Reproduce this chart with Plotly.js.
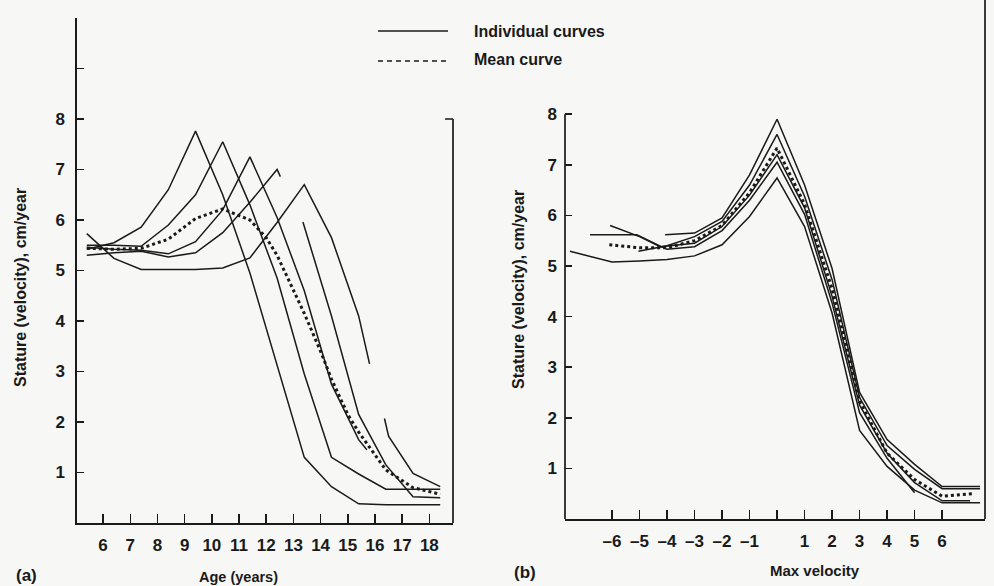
<!DOCTYPE html>
<html>
<head>
<meta charset="utf-8">
<script src="https://cdn.plot.ly/plotly-3.0.1.min.js"></script>
<style>
  html, body { margin: 0; padding: 0; background: #f7f7f5; }
  #chart { width: 994px; height: 586px; }
</style>
</head>
<body>
<div id="chart"></div>
<script>
// ---------- Panel (a): velocity by age ----------
const ageA = [5.4, 6.4, 7.4, 8.4, 9.4, 10.4, 11.4, 12.4, 13.4, 14.4, 15.4, 16.4, 17.4, 18.4];
const velA = [5.42, 5.55, 5.86, 6.6, 7.76, 6.5, 4.95, 3.1, 1.3, 0.72, 0.38, 0.36, 0.36, 0.36];

const ageB = [5.4, 6.4, 7.4, 8.4, 9.4, 10.4, 11.4, 12.4, 13.4, 14.4, 15.4, 16.4, 17.4, 18.4];
const velB = [5.5, 5.5, 5.48, 5.9, 6.5, 7.55, 6.3, 4.85, 2.95, 1.3, 0.97, 0.67, 0.67, 0.67];

const ageC = [5.4, 6.4, 7.4, 8.4, 9.4, 10.4, 11.4, 12.4, 13.4, 14.4, 15.4, 15.7];
const velC = [5.46, 5.42, 5.4, 5.33, 5.57, 6.2, 7.25, 6.05, 4.6, 2.75, 1.65, 1.45];

const ageD = [5.4, 6.4, 7.4, 8.4, 9.4, 10.4, 11.4, 12.4, 12.52, null, 13.35, 14.4, 15.4, 16.4, 17.4, 18.4];
const velD = [5.3, 5.35, 5.38, 5.27, 5.35, 5.75, 6.35, 7.0, 6.86, null, 5.96, 4.1, 2.15, 1.15, 0.52, 0.5];

const ageE = [5.4, 6.4, 7.4, 8.4, 9.4, 10.4, 11.4, 12.4, 13.4, 14.4, 15.4, 15.8, null, 16.35, 16.5, 17.4, 18.4];
const velE = [5.73, 5.24, 5.02, 5.02, 5.02, 5.05, 5.25, 5.95, 6.7, 5.65, 4.1, 3.15, null, 2.07, 1.72, 0.98, 0.72];

const ageMean = [5.4, 6.4, 7.4, 8.4, 9.4, 10.4, 11.4, 12.0, 12.4, 13.0, 13.4, 14.0, 14.4, 15.0, 15.4, 16.4, 17.4, 18.4];
const velMean = [5.44, 5.42, 5.44, 5.62, 6.03, 6.22, 6.0, 5.65, 5.3, 4.6, 4.15, 3.4, 2.85, 2.15, 1.8, 1.05, 0.7, 0.57];

const ageTicks = [6, 7, 8, 9, 10, 11, 12, 13, 14, 15, 16, 17, 18];
const velTicksA = [1, 2, 3, 4, 5, 6, 7, 8, 9, 10];
const velTickTextA = ['1', '2', '3', '4', '5', '6', '7', '8', '', ''];

// ---------- Panel (b): velocity by years from max velocity ----------
const rel1 = [-7.53, -6, -5, -4, -3, -2, -1, 0, 1, 2, 3, 4, 5, 6, 7.38];
const vel1 = [5.29, 5.08, 5.1, 5.13, 5.2, 5.42, 5.98, 6.74, 5.78, 4.07, 1.75, 1.04, 0.57, 0.32, 0.32];

const rel2 = [-6.8, -5.1, -4, -3, -2, -1, 0, 1, 2, 3, 4, 5];
const vel2 = [5.62, 5.62, 5.33, 5.38, 5.7, 6.3, 7.05, 6.02, 4.27, 2.1, 1.2, 0.52];

const rel3 = [-6.07, -5, -4.25, -3, -2, -1, 0, 1, 2, 3, 4, 5, 6, 7.02];
const vel3 = [5.8, 5.58, 5.38, 5.45, 5.78, 6.4, 7.2, 6.15, 4.4, 2.25, 1.3, 0.72, 0.36, 0.36];

const rel4 = [-5.04, -4, -3, -2, -1, 0, 1, 2, 3, 4, 5, 6, 7.38];
const vel4 = [5.29, 5.4, 5.58, 5.88, 6.6, 7.6, 6.38, 4.73, 2.4, 1.45, 0.98, 0.6, 0.6];

const rel5 = [-4.07, -3, -2, -1, 0, 1, 2, 3, 4, 5, 6, 7.38];
const vel5 = [5.62, 5.65, 5.95, 6.8, 7.9, 6.6, 4.95, 2.5, 1.57, 1.08, 0.64, 0.64];

const relMean = [-6.1, -5, -4, -3, -2, -1, 0, 1, 2, 3, 4, 5, 6, 7.1];
const velMeanB = [5.42, 5.36, 5.36, 5.5, 5.8, 6.45, 7.33, 6.22, 4.55, 2.33, 1.3, 0.78, 0.45, 0.5];

const relTicks = [-6, -5, -4, -3, -2, -1, 0, 1, 2, 3, 4, 5, 6];
const relTickText = ['\u20136', '\u20135', '\u20134', '\u20133', '\u20132', '\u20131', '', '1', '2', '3', '4', '5', '6'];
const velTicksB = [1, 2, 3, 4, 5, 6, 7, 8];

// ---------- Text ----------
const yTitle = 'Stature (velocity), cm/year';
const xTitleA = 'Age (years)';
const xTitleB = 'Max velocity';
const legendSolid = 'Individual curves';
const legendMean = 'Mean curve';

// ---------- Build ----------
const INK = '#1a1a1a';
const FONT = 'Liberation Sans, Arial, Helvetica, sans-serif';
const W = 994, H = 586;

function indiv(x, y, xa, ya) {
  return { x: x, y: y, xaxis: xa, yaxis: ya, mode: 'lines', type: 'scatter',
           line: { color: INK, width: 1.5 }, connectgaps: false, hoverinfo: 'skip', showlegend: false };
}
function mean(x, y, xa, ya) {
  return { x: x, y: y, xaxis: xa, yaxis: ya, mode: 'lines', type: 'scatter',
           line: { color: INK, width: 3, dash: 'dot' }, hoverinfo: 'skip', showlegend: false };
}

const data = [
  indiv(ageA, velA, 'x', 'y'),
  indiv(ageB, velB, 'x', 'y'),
  indiv(ageC, velC, 'x', 'y'),
  indiv(ageD, velD, 'x', 'y'),
  indiv(ageE, velE, 'x', 'y'),
  mean(ageMean, velMean, 'x', 'y'),
  indiv(rel1, vel1, 'x2', 'y2'),
  indiv(rel2, vel2, 'x2', 'y2'),
  indiv(rel3, vel3, 'x2', 'y2'),
  indiv(rel4, vel4, 'x2', 'y2'),
  indiv(rel5, vel5, 'x2', 'y2'),
  mean(relMean, velMeanB, 'x2', 'y2')
];

const tickFont = { family: FONT, size: 17, color: INK, weight: 'bold' };
function txt(size) { return { family: FONT, size: size, color: INK, weight: 'bold' }; }

const layout = {
  width: W, height: H,
  margin: { l: 0, r: 0, t: 0, b: 0 },
  paper_bgcolor: '#f7f7f5',
  plot_bgcolor: 'rgba(0,0,0,0)',
  showlegend: false,
  font: { family: FONT, color: INK },
  xaxis: {
    domain: [77 / W, 453 / W], range: [5.04, 18.87], anchor: 'y',
    showline: true, linecolor: INK, linewidth: 1.7, mirror: false,
    ticks: 'inside', ticklen: 9, tickwidth: 1.5, tickcolor: INK,
    tickvals: ageTicks, tickfont: tickFont, ticklabelstandoff: 6,
    showgrid: false, zeroline: false
  },
  yaxis: {
    domain: [1 - 523 / H, 1 - 18 / H], range: [0, 10], anchor: 'x',
    showline: true, linecolor: INK, linewidth: 1.7,
    ticks: 'inside', ticklen: 7, tickwidth: 1.5, tickcolor: INK,
    tickvals: velTicksA, ticktext: velTickTextA, tickfont: tickFont, ticklabelstandoff: 7,
    showgrid: false, zeroline: false
  },
  xaxis2: {
    domain: [565 / W, 985 / W], range: [-7.71, 7.56], anchor: 'y2',
    showline: true, linecolor: INK, linewidth: 1.7,
    ticks: 'inside', ticklen: 9, tickwidth: 1.5, tickcolor: INK,
    tickvals: relTicks, ticktext: relTickText, tickfont: tickFont, ticklabelstandoff: 6,
    showgrid: false, zeroline: false
  },
  yaxis2: {
    domain: [1 - 519 / H, 1], range: [0, 519 / 50.6], anchor: 'x2',
    showline: false,
    ticks: 'inside', ticklen: 7, tickwidth: 1.5, tickcolor: INK,
    tickvals: velTicksB, tickfont: tickFont, ticklabelstandoff: 7,
    showgrid: false, zeroline: false
  },
  shapes: [
    { type: 'line', xref: 'x domain', yref: 'y', x0: 1, x1: 1, y0: 0, y1: 8, line: { color: INK, width: 1.7 } },
    { type: 'line', xref: 'x domain', yref: 'y', x0: 1 - 8 / 376, x1: 1, y0: 8, y1: 8, line: { color: INK, width: 1.5 } },
    { type: 'line', xref: 'x2 domain', yref: 'y2', x0: 0, x1: 0, y0: 0, y1: 8, line: { color: INK, width: 1.7 } },
    { type: 'line', xref: 'x2 domain', yref: 'y2 domain', x0: 1, x1: 1, y0: 0, y1: 1, line: { color: INK, width: 1.7 } },
    { type: 'line', xref: 'paper', yref: 'paper', x0: 378 / W, x1: 448 / W, y0: 1 - 31 / H, y1: 1 - 31 / H, line: { color: INK, width: 1.5 } },
    { type: 'line', xref: 'paper', yref: 'paper', x0: 378 / W, x1: 448 / W, y0: 1 - 61 / H, y1: 1 - 61 / H, line: { color: INK, width: 1.5, dash: '5px,4px' } }
  ],
  annotations: [
    { text: legendSolid, xref: 'paper', yref: 'paper', x: 472 / W, y: 1 - 31 / H, xanchor: 'left', yanchor: 'middle', showarrow: false, font: txt(16) },
    { text: legendMean, xref: 'paper', yref: 'paper', x: 472 / W, y: 1 - 60 / H, xanchor: 'left', yanchor: 'middle', showarrow: false, font: txt(16) },
    { text: yTitle, xref: 'paper', yref: 'paper', x: 20 / W, y: 1 - 288 / H, textangle: -90, xanchor: 'center', yanchor: 'middle', showarrow: false, font: txt(16) },
    { text: yTitle, xref: 'paper', yref: 'paper', x: 518 / W, y: 1 - 290 / H, textangle: -90, xanchor: 'center', yanchor: 'middle', showarrow: false, font: txt(16) },
    { text: xTitleA, xref: 'paper', yref: 'paper', x: 238 / W, y: 1 - 577 / H, xanchor: 'center', yanchor: 'middle', showarrow: false, font: txt(14.5) },
    { text: xTitleB, xref: 'paper', yref: 'paper', x: 815 / W, y: 1 - 570 / H, xanchor: 'center', yanchor: 'middle', showarrow: false, font: txt(15) },
    { text: '(a)', xref: 'paper', yref: 'paper', x: 26 / W, y: 1 - 575 / H, xanchor: 'center', yanchor: 'middle', showarrow: false, font: txt(17) },
    { text: '(b)', xref: 'paper', yref: 'paper', x: 525 / W, y: 1 - 572 / H, xanchor: 'center', yanchor: 'middle', showarrow: false, font: txt(17) }
  ]
};

Plotly.newPlot('chart', data, layout, { staticPlot: true, displayModeBar: false });
</script>
</body>
</html>
